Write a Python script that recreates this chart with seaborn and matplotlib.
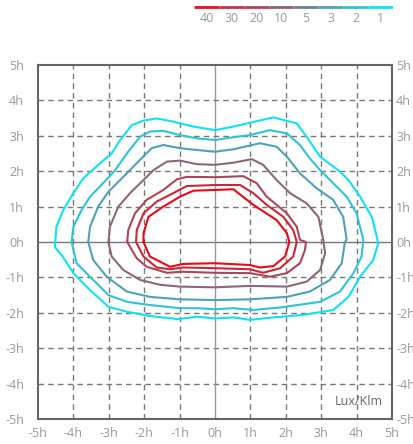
import matplotlib
matplotlib.use("Agg")
import matplotlib.pyplot as plt
import seaborn as sns
import numpy as np
import pandas as pd

sns.set_theme(style="white")
plt.rcParams['font.family'] = ['Open Sans', 'DejaVu Sans']

# legend levels and colours
levels = ["40", "30", "20", "10", "5", "3", "2", "1"]
level_colors = ["#e8101c", "#c23446", "#a44a5c", "#8a6274", "#6c8294", "#4ea2b4", "#30c2d6", "#12e0f2"]

# contour curves (x, y in h units), outermost first
c1_x = [-4.52, -4.48, -4.29, -4.00, -3.72, -3.25, -2.92, -2.68, -2.35, -2.02, -1.65, -1.18, -0.61, 0.00, 0.52, 0.99, 1.65, 2.31, 2.59, 2.97, 3.53, 3.77, 4.10, 4.43, 4.57, 4.61, 4.47, 4.10, 3.77, 3.34, 2.49, 1.65, 0.99, 0.52, 0.00, -0.52, -1.04, -1.84, -2.49, -3.01, -3.53, -4.00, -4.33, -4.52]
c1_y = [-0.10, 0.43, 0.90, 1.38, 1.80, 2.22, 2.50, 2.88, 3.30, 3.43, 3.49, 3.40, 3.26, 3.16, 3.26, 3.37, 3.52, 3.35, 2.97, 2.41, 1.99, 1.75, 1.28, 0.71, 0.15, -0.04, -0.51, -0.98, -1.55, -1.92, -2.06, -2.13, -2.20, -2.13, -2.16, -2.11, -2.18, -2.09, -1.97, -1.83, -1.36, -0.88, -0.37, -0.15]

c2_x = [-4.05, -4.00, -3.77, -3.53, -3.16, -2.82, -2.49, -2.12, -1.84, -1.46, -0.99, -0.52, 0.00, 0.52, 0.99, 1.55, 2.03, 2.40, 2.68, 2.97, 3.34, 3.72, 4.00, 4.19, 4.14, 3.91, 3.53, 2.97, 1.84, 1.08, 0.52, 0.00, -0.52, -0.99, -1.84, -2.49, -3.01, -3.53, -3.91]
c2_y = [0.00, 0.43, 0.90, 1.28, 1.66, 2.03, 2.50, 2.97, 3.12, 3.14, 3.02, 2.93, 2.88, 2.96, 3.02, 3.16, 3.07, 2.74, 2.36, 2.03, 1.66, 1.28, 0.81, 0.06, -0.41, -0.88, -1.40, -1.69, -1.85, -1.92, -1.87, -1.90, -1.87, -1.87, -1.78, -1.69, -1.50, -0.98, -0.60]

c3_x = [-3.58, -3.53, -3.30, -3.01, -2.59, -2.12, -1.79, -1.46, -0.99, -0.52, 0.00, 0.52, 1.27, 1.74, 2.03, 2.40, 2.87, 3.34, 3.62, 3.72, 3.67, 3.58, 3.25, 2.68, 2.03, 0.99, 0.00, -0.99, -1.84, -2.49, -3.06, -3.44]
c3_y = [0.00, 0.43, 1.00, 1.42, 1.84, 2.32, 2.65, 2.74, 2.65, 2.60, 2.55, 2.62, 2.79, 2.69, 2.41, 1.94, 1.52, 1.19, 0.71, 0.06, 0.00, -0.60, -1.07, -1.40, -1.55, -1.62, -1.64, -1.62, -1.55, -1.40, -0.98, -0.51]

c4_x = [-3.01, -2.97, -2.73, -2.40, -2.02, -1.74, -1.36, -0.99, -0.52, 0.00, 0.52, 1.04, 1.36, 1.74, 2.12, 2.59, 2.92, 3.06, 3.11, 2.97, 2.59, 2.03, 0.99, 0.00, -0.99, -1.55, -2.12, -2.59, -2.92]
c4_y = [0.00, 0.43, 1.00, 1.38, 1.75, 2.03, 2.27, 2.30, 2.20, 2.18, 2.24, 2.34, 2.18, 1.75, 1.38, 1.09, 0.71, 0.06, -0.32, -0.79, -1.12, -1.26, -1.24, -1.28, -1.26, -1.21, -1.07, -0.79, -0.41]

c5_x = [-2.48, -2.45, -2.26, -1.93, -1.46, -1.08, -0.80, 0.00, 0.80, 1.18, 1.46, 2.03, 2.31, 2.40, 2.57, 2.54, 2.40, 2.03, 1.55, 0.99, 0.00, -0.90, -1.36, -1.93, -2.21]
c5_y = [0.00, 0.34, 0.81, 1.19, 1.47, 1.77, 1.84, 1.83, 1.86, 1.66, 1.28, 0.81, 0.43, 0.06, 0.00, -0.23, -0.60, -0.88, -0.98, -0.88, -0.87, -0.84, -0.87, -0.70, -0.46]

c6_x = [-2.23, -2.21, -2.02, -1.65, -1.18, -0.80, 0.00, 0.71, 1.08, 1.46, 1.93, 2.21, 2.31, 2.21, 1.84, 1.36, 0.99, 0.00, -0.90, -1.27, -1.65, -2.02]
c6_y = [0.00, 0.34, 0.81, 1.14, 1.38, 1.58, 1.61, 1.61, 1.38, 1.05, 0.71, 0.34, 0.00, -0.41, -0.74, -0.87, -0.77, -0.74, -0.72, -0.77, -0.72, -0.41]

c7_x = [-2.02, -2.02, -1.88, -1.46, -0.99, -0.61, 0.00, 0.52, 1.08, 1.74, 2.03, 2.10, 1.98, 1.65, 1.27, 0.99, 0.00, -0.90, -1.27, -1.84]
c7_y = [0.00, 0.25, 0.71, 1.00, 1.28, 1.45, 1.47, 1.49, 1.05, 0.62, 0.25, 0.00, -0.41, -0.68, -0.72, -0.65, -0.60, -0.62, -0.70, -0.41]

curves = [(c1_x, c1_y, level_colors[7]),
          (c2_x, c2_y, level_colors[6]),
          (c3_x, c3_y, level_colors[5]),
          (c4_x, c4_y, "#8a6878"),
          (c5_x, c5_y, "#a84858"),
          (c6_x, c6_y, "#c82838"),
          (c7_x, c7_y, "#e80818")]

ticks = [-5, -4, -3, -2, -1, 0, 1, 2, 3, 4, 5]
tick_labels = [f"{t}h" for t in ticks]

fig = plt.figure(figsize=(4.14, 4.44), dpi=100)
ax = fig.add_axes([38/414, 1-419/444, 354/414, 354/444])

# grid
for t in ticks[1:-1]:
    if t == 0:
        ax.axhline(0, color="#777777", lw=1.0, zorder=1)
        ax.axvline(0, color="#999999", lw=1.0, zorder=1)
    else:
        ax.axhline(t, color="#777777", lw=1.0, ls=(0, (4, 3)), zorder=1)
        ax.axvline(t, color="#777777", lw=1.0, ls=(0, (4, 3)), zorder=1)

for cx, cy, col in curves:
    df = pd.DataFrame({"x": list(cx) + [cx[0]], "y": list(cy) + [cy[0]]})
    sns.lineplot(data=df, x="x", y="y", sort=False, estimator=None, color=col, lw=1.5, ax=ax, zorder=3)

ax.set_xlim(-5, 5)
ax.set_ylim(-5, 5)
ax.set_xticks(ticks)
ax.set_xticklabels(tick_labels)
ax.set_yticks(ticks)
ax.set_yticklabels(tick_labels)
ax.set_xlabel("")
ax.set_ylabel("")
ax.tick_params(axis="both", length=0, labelsize=9, labelcolor="#999999")
ax.tick_params(axis="y", pad=10)
ax.tick_params(axis="x", pad=6)
for s in ax.spines.values():
    s.set_color("#666666")
    s.set_linewidth(1.5)

# right-hand labels (cut by the figure edge as in the reference)
rax = ax.twinx()
rax.set_ylim(-5, 5)
rax.set_yticks(ticks)
rax.set_yticklabels(tick_labels)
rax.tick_params(axis="y", length=0, labelsize=9, labelcolor="#999999", pad=3)
for s in rax.spines.values():
    s.set_visible(False)

ax.text(0.975, 0.03, "Lux/Klm", transform=ax.transAxes, ha="right", va="bottom",
        fontsize=9, color="#666666")

# legend strip at top
lax = fig.add_axes([194/414, 1-30/444, 199/414, 28/444])
lax.set_xlim(0, len(levels))
lax.set_ylim(0, 1)
lax.axis("off")
for i, (lv, col) in enumerate(zip(levels, level_colors)):
    lax.plot([i, i + 1], [0.82, 0.82], color=col, lw=2, solid_capstyle="butt")
    lax.text(i + 0.5, 0.42, lv, ha="center", va="center", fontsize=9, color="#999999")

fig.savefig("out.png", dpi=100)
